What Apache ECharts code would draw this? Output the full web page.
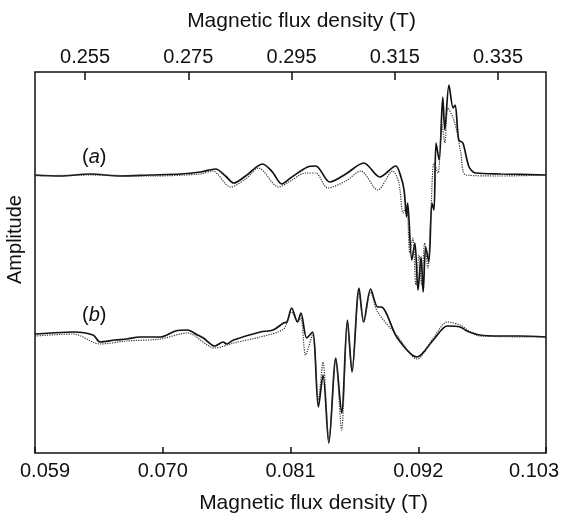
<!DOCTYPE html>
<html>
<head>
<meta charset="utf-8">
<script src="https://cdn.jsdelivr.net/npm/echarts@6/dist/echarts.min.js"></script>
<style>
html,body{margin:0;padding:0;background:#fff;}
#chart{width:561px;height:514px;}
</style>
</head>
<body>
<div id="chart"></div>
<script>
// Bottom axis (T) and top axis (T) tick values
const bottomTicks = [0.059, 0.070, 0.081, 0.092, 0.103];
const topTicks = [0.255, 0.275, 0.295, 0.315, 0.335];
const bottomRange = [0.059, 0.103];
const topRange = [0.2453, 0.3443];

// Trace (a) solid: field (top axis, T), amplitude (arb. units)
const aSolidB = [0.2453,0.2502,0.2560,0.2618,0.2676,0.2735,0.2773,0.2803,0.2822,0.2838,0.2861,0.2894,0.2913,0.2931,0.2948,0.2981,0.2997,0.3024,0.3055,0.3090,0.3121,0.3152,0.3162,0.3168,0.3173,0.3175,0.3183,0.3189,0.3195,0.3201,0.3205,0.3210,0.3216,0.3222,0.3226,0.3230,0.3236,0.3243,0.3247,0.3255,0.3263,0.3267,0.3274,0.3282,0.3294,0.3307,0.3356,0.3443];
const aSolidV = [278,277,279,277,278,279,281,284,277,270,277,289,281,269,275,286,287,271,279,290,276,287,276,263,236,250,193,210,163,196,161,206,191,250,243,310,293,356,323,368,345,348,313,310,286,280,279,278];

// Trace (a) dotted
const aDotB = [0.2453,0.2560,0.2676,0.2773,0.2797,0.2832,0.2861,0.2886,0.2925,0.2948,0.2977,0.2997,0.3020,0.3055,0.3084,0.3117,0.3146,0.3158,0.3166,0.3173,0.3179,0.3185,0.3191,0.3197,0.3202,0.3208,0.3214,0.3220,0.3226,0.3234,0.3241,0.3247,0.3253,0.3263,0.3271,0.3278,0.3288,0.3356,0.3443];
const aDotV = [277,278,277,279,282,266,274,285,266,272,280,280,265,272,282,263,282,270,240,248,200,215,168,198,168,210,185,240,290,280,330,310,345,335,320,300,278,277,278];

// Trace (b) solid: field (bottom axis, T)
const bSolidB = [0.0590,0.0603,0.0623,0.0640,0.0646,0.0659,0.0669,0.0680,0.0698,0.0711,0.0721,0.0730,0.0735,0.0745,0.0752,0.0755,0.0761,0.0784,0.0795,0.0804,0.0807,0.0811,0.0816,0.0819,0.0824,0.0829,0.0834,0.0838,0.0843,0.0849,0.0854,0.0859,0.0863,0.0869,0.0873,0.0879,0.0885,0.0888,0.0902,0.0919,0.0933,0.0945,0.0956,0.0962,0.0973,0.0990,0.1007,0.1030];
const bSolidV = [119,120,121,118,111,113,114,116,116,122,123,118,115,107,111,109,113,121,123,130,131,145,131,140,115,121,46,78,10,95,40,133,81,165,131,164,146,146,115,96,113,127,126,122,118,117,117,116];

// Trace (b) dotted
const bDotB = [0.0590,0.0623,0.0646,0.0669,0.0698,0.0721,0.0745,0.0761,0.0784,0.0804,0.0811,0.0816,0.0819,0.0823,0.0829,0.0834,0.0838,0.0843,0.0849,0.0854,0.0859,0.0863,0.0869,0.0873,0.0879,0.0885,0.0902,0.0919,0.0933,0.0945,0.0956,0.0965,0.0973,0.1030];
const bDotV = [117,119,109,112,114,120,105,110,116,124,141,131,135,98,118,53,91,13,93,23,131,83,161,131,161,141,117,94,115,131,128,121,117,116];

const zip = (xs, ys) => xs.map((x, i) => [x, ys[i]]);
const font = '"Liberation Sans", Arial, sans-serif';
const bottomFmt = v => {
  const s = v.toFixed(3);
  if (Math.abs(v - bottomRange[0]) < 1e-9) return '{l|' + s + '}';
  if (Math.abs(v - bottomRange[1]) < 1e-9) return '{r|' + s + '}';
  return '{n|' + s + '}';
};
const lblRich = {
  n: {fontFamily: font, fontSize: 20, color: '#111'},
  l: {fontFamily: font, fontSize: 20, color: '#111', padding: [0, 0, 0, 20]},
  r: {fontFamily: font, fontSize: 20, color: '#111', padding: [0, 24, 0, 0]}
};

const chart = echarts.init(document.getElementById('chart'), null, {renderer: 'canvas'});
chart.setOption({
  animation: false,
  backgroundColor: '#fff',
  grid: {left: 35, right: 15, top: 72, bottom: 61, outerBoundsMode: 'none', containLabel: false,
         show: true, borderColor: '#111', borderWidth: 1.5, backgroundColor: 'transparent'},
  xAxis: [
    {
      type: 'value', position: 'bottom', min: bottomRange[0], max: bottomRange[1],
      name: 'Magnetic flux density (T)', nameLocation: 'middle', nameGap: 40,
      nameTextStyle: {fontFamily: font, fontSize: 21, color: '#111', padding: [0, 0, 0, 46]},
      axisLine: {show: false}, splitLine: {show: false},
      axisTick: {show: true, inside: true, length: 6, lineStyle: {color: '#111', width: 1.5}, customValues: bottomTicks},
      axisLabel: {show: true, margin: 8, customValues: bottomTicks, formatter: bottomFmt, rich: lblRich, showMinLabel: true, showMaxLabel: true}
    },
    {
      type: 'value', position: 'top', min: topRange[0], max: topRange[1],
      name: 'Magnetic flux density (T)', nameLocation: 'middle', nameGap: 40,
      nameTextStyle: {fontFamily: font, fontSize: 21, color: '#111', padding: [0, 0, 0, 22]},
      axisLine: {show: false}, splitLine: {show: false},
      axisTick: {show: true, inside: true, length: 8, lineStyle: {color: '#111', width: 1.5}, customValues: topTicks},
      axisLabel: {show: true, margin: 5, fontFamily: font, fontSize: 20, color: '#111', customValues: topTicks, formatter: v => v.toFixed(3)}
    }
  ],
  yAxis: {
    type: 'value', min: 0, max: 381,
    name: 'Amplitude', nameLocation: 'middle', nameGap: 10,
    nameTextStyle: {fontFamily: font, fontSize: 20, color: '#111', padding: [0, 0, 0, 46]},
    axisLine: {show: false}, axisTick: {show: false}, axisLabel: {show: false}, splitLine: {show: false}
  },
  series: [
    {name: '(a) solid', type: 'line', xAxisIndex: 1, data: zip(aSolidB, aSolidV), showSymbol: false, smooth: 0.3,
     lineStyle: {color: '#111', width: 1.7}},
    {name: '(a) dotted', type: 'line', xAxisIndex: 1, data: zip(aDotB, aDotV), showSymbol: false, smooth: 0.3,
     lineStyle: {color: '#333', width: 1.2, type: 'dotted'}},
    {name: '(b) solid', type: 'line', xAxisIndex: 0, data: zip(bSolidB, bSolidV), showSymbol: false, smooth: 0.3,
     lineStyle: {color: '#111', width: 1.7}},
    {name: '(b) dotted', type: 'line', xAxisIndex: 0, data: zip(bDotB, bDotV), showSymbol: false, smooth: 0.3,
     lineStyle: {color: '#333', width: 1.2, type: 'dotted'}}
  ],
  graphic: [
    {type: 'text', left: 82, top: 147, style: {text: '{p|(}{i|a}{p|)}', rich: {
      p: {fontFamily: font, fontSize: 20, fill: '#111'}, i: {fontFamily: font, fontSize: 20, fontStyle: 'italic', fill: '#111'}}}},
    {type: 'text', left: 82, top: 305, style: {text: '{p|(}{i|b}{p|)}', rich: {
      p: {fontFamily: font, fontSize: 20, fill: '#111'}, i: {fontFamily: font, fontSize: 20, fontStyle: 'italic', fill: '#111'}}}}
  ]
});
</script>
</body>
</html>
